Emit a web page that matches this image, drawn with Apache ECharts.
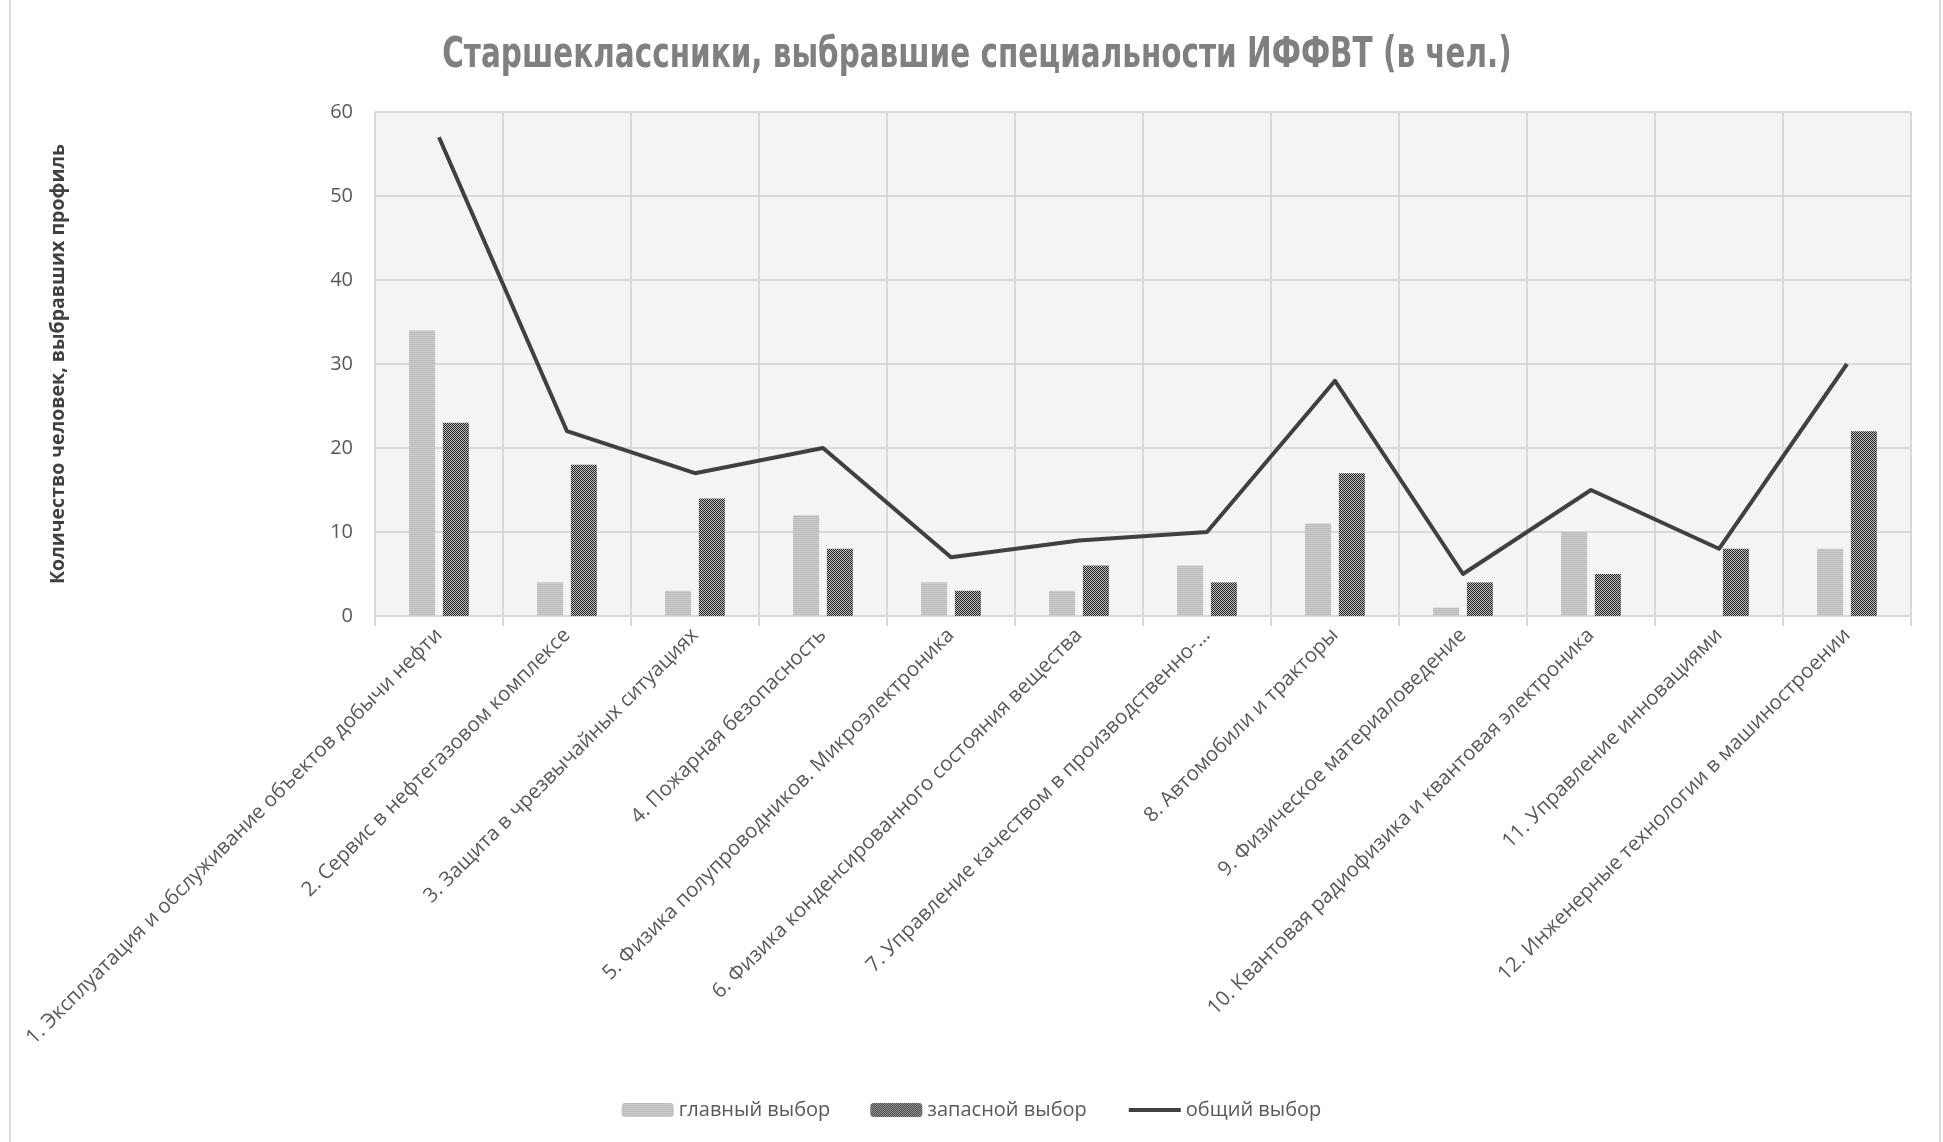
<!DOCTYPE html>
<html>
<head>
<meta charset="utf-8">
<title>ИФФВТ</title>
<script src="https://cdn.jsdelivr.net/npm/echarts@6/dist/echarts.min.js"></script>
<style>
    html, body { margin: 0; padding: 0; background: #fff; }
    #chart1 { width: 1943px; height: 1142px; }
</style>
</head>
<body>
<div id="chart1"></div>
<script>
// данные
const categories = [
    '1. Эксплуатация и обслуживание объектов добычи нефти',
    '2. Сервис в нефтегазовом комплексе',
    '3. Защита в чрезвычайных ситуациях',
    '4. Пожарная безопасность',
    '5. Физика полупроводников. Микроэлектроника',
    '6. Физика конденсированного состояния вещества',
    '7. Управление качеством в производственно-...',
    '8. Автомобили и тракторы',
    '9. Физическое материаловедение',
    '10. Квантовая радиофизика и квантовая электроника',
    '11. Управление инновациями',
    '12. Инженерные технологии в машиностроении'
]
const mainChoice = [34, 4, 3, 12, 4, 3, 6, 11, 1, 10, 0, 8]
const reserveChoice = [23, 18, 14, 8, 3, 6, 4, 17, 4, 5, 8, 22]
const totalChoice = [57, 22, 17, 20, 7, 9, 10, 28, 5, 15, 8, 30]
const yTicks = { min: 0, max: 60, interval: 10 }
const titleText = 'Старшеклассники, выбравшие специальности ИФФВТ (в чел.)'

// штриховка столбцов
function makePattern(kind) {
    let c = document.createElement('canvas')
    c.width = 4
    c.height = 4
    let ctx = c.getContext('2d')
    if (kind === 'lines') {
        for (let y = 0; y < 4; y++) {
            ctx.fillStyle = y % 2 === 0 ? '#bababa' : '#cdcdcd'
            ctx.fillRect(0, y, 4, 1)
        }
    } else {
        for (let y = 0; y < 4; y++) {
            for (let x = 0; x < 4; x++) {
                ctx.fillStyle = (x + y) % 2 === 0 ? '#1e1e1e' : '#c4c4c4'
                ctx.fillRect(x, y, 1, 1)
            }
        }
    }
    return { image: c, repeat: 'repeat' }
}

const labelColor = '#595959'
const gridColor = '#d9d9d9'

let myChart = echarts.init(document.getElementById('chart1'))
let option = {
    backgroundColor: '#ffffff',
    animation: false,
    graphic: [
        {
            type: 'rect',
            shape: { x: 10, y: -5, width: 1930, height: 1152 },
            style: { fill: 'none', stroke: gridColor, lineWidth: 2 },
            silent: true
        },
        // заголовок, сжатый по горизонтали
        {
            type: 'text',
            x: 977,
            y: 56,
            scaleX: 0.78,
            silent: true,
            style: {
                text: titleText,
                font: 'bold 42px "DejaVu Sans Condensed", "Liberation Sans", sans-serif',
                fill: '#808080',
                align: 'center',
                verticalAlign: 'middle'
            }
        }
    ],
    legend: {
        bottom: 17,
        left: 'center',
        itemGap: 40,
        itemWidth: 52,
        itemHeight: 14,
        textStyle: { fontFamily: 'Open Sans', fontSize: 20, color: labelColor },
        data: [
            'главный выбор',
            'запасной выбор',
            // без кружка в легенде, только линия
            { name: 'общий выбор', itemStyle: { opacity: 0 }, lineStyle: { width: 4, color: '#404040' } }
        ]
    },
    grid: {
        left: 375,
        right: 32,
        top: 112,
        bottom: 526,
        show: true,
        backgroundColor: '#f4f4f4',
        borderColor: gridColor,
        borderWidth: 1
    },
    xAxis: {
        type: 'category',
        data: categories,
        axisLine: { lineStyle: { color: gridColor, width: 2 } },
        axisTick: { show: true, length: 10, lineStyle: { color: gridColor, width: 2 } },
        splitLine: { show: true, lineStyle: { color: gridColor, width: 2 } },
        axisLabel: {
            interval: 0,
            rotate: 45,
            margin: 16,
            fontFamily: 'Open Sans',
            fontSize: 20.5,
            color: labelColor
        }
    },
    yAxis: {
        type: 'value',
        min: yTicks.min,
        max: yTicks.max,
        interval: yTicks.interval,
        name: 'Количество человек, выбравших профиль',
        nameLocation: 'middle',
        nameGap: 307,
        nameTextStyle: {
            fontFamily: 'Open Sans',
            fontWeight: 'bold',
            fontSize: 19.5,
            color: '#404040'
        },
        axisLine: { show: false },
        axisTick: { show: false },
        splitLine: { lineStyle: { color: gridColor, width: 2 } },
        axisLabel: {
            margin: 22,
            fontFamily: 'Open Sans',
            fontSize: 20,
            color: labelColor
        }
    },
    series: [
        {
            name: 'главный выбор',
            type: 'bar',
            barWidth: 26,
            barGap: '30%',
            itemStyle: { color: makePattern('lines') },
            data: mainChoice
        },
        {
            name: 'запасной выбор',
            type: 'bar',
            barWidth: 26,
            barGap: '30%',
            itemStyle: { color: makePattern('checker') },
            data: reserveChoice
        },
        {
            name: 'общий выбор',
            type: 'line',
            symbol: 'none',
            lineStyle: { color: '#404040', width: 4, join: 'round' },
            itemStyle: { color: '#404040' },
            data: totalChoice
        }
    ]
}
myChart.setOption(option)
</script>
</body>
</html>
